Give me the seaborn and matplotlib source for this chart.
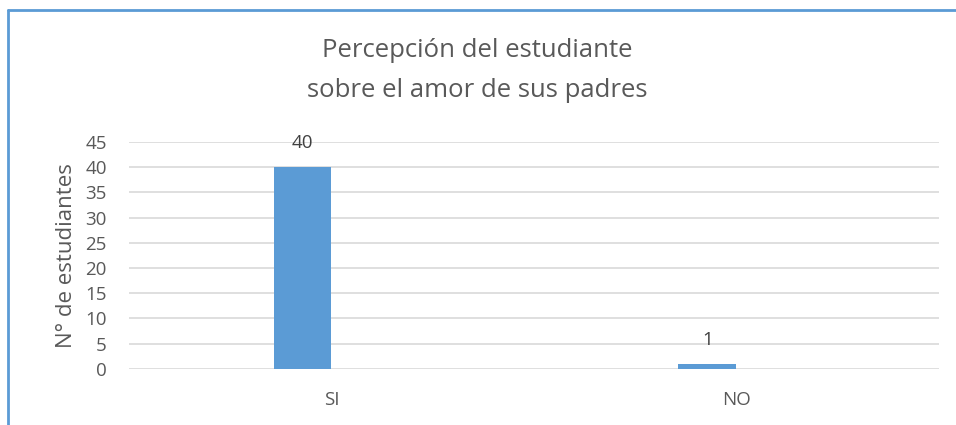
import pandas as pd
import matplotlib.pyplot as plt
import seaborn as sns
from matplotlib.lines import Line2D

# datos del grafico
categorias = ['SI', 'NO']
estudiantes = [40, 1]
series = ['Serie1', 'Serie2']   # la segunda serie esta vacia en el original

df = pd.DataFrame({'respuesta': categorias, 'n': estudiantes, 'serie': series[0]})

sns.set_style('white')
plt.rcParams['font.family'] = ['Open Sans', 'DejaVu Sans']

fig = plt.figure(figsize=(9.56, 4.25), dpi=100)
ax = fig.add_axes([0.135, 0.132, 0.847, 0.534])

sns.barplot(data=df, x='respuesta', y='n', hue='serie', hue_order=series,
            order=categorias, palette=['#5B9BD5', '#ED7D31'], width=0.286,
            dodge=True, legend=False, errorbar=None, saturation=1,
            linewidth=0, ax=ax)

for cont in ax.containers:
    if len(cont) > 0:
        ax.bar_label(cont, padding=11, fontsize=13.5, color='#404040')

ax.set_ylim(0, 45)
ax.set_yticks(range(0, 46, 5))
ax.yaxis.grid(True, color='#D9D9D9', lw=1.2)
ax.set_axisbelow(True)
sns.despine(ax=ax, left=True, bottom=True)
ax.tick_params(axis='both', length=0, labelsize=13.5, colors='#595959')
ax.tick_params(axis='y', pad=16)
ax.tick_params(axis='x', pad=16)
ax.set_xlabel('')
ax.set_ylabel('N° de estudiantes', fontsize=16, color='#595959', labelpad=6)

fig.text(0.499, 0.834, 'Percepción del estudiante\nsobre el amor de sus padres',
         ha='center', va='center', fontsize=18.5, color='#595959', linespacing=1.8)

# borde del area del grafico (solo arriba e izquierda visibles)
fig.add_artist(Line2D([0.0085, 1.0], [0.976, 0.976], color='#5B9BD5', lw=2,
                      transform=fig.transFigure))
fig.add_artist(Line2D([0.0085, 0.0085], [0.0, 0.976], color='#5B9BD5', lw=2,
                      transform=fig.transFigure))

fig.savefig('out.png', dpi=100)
